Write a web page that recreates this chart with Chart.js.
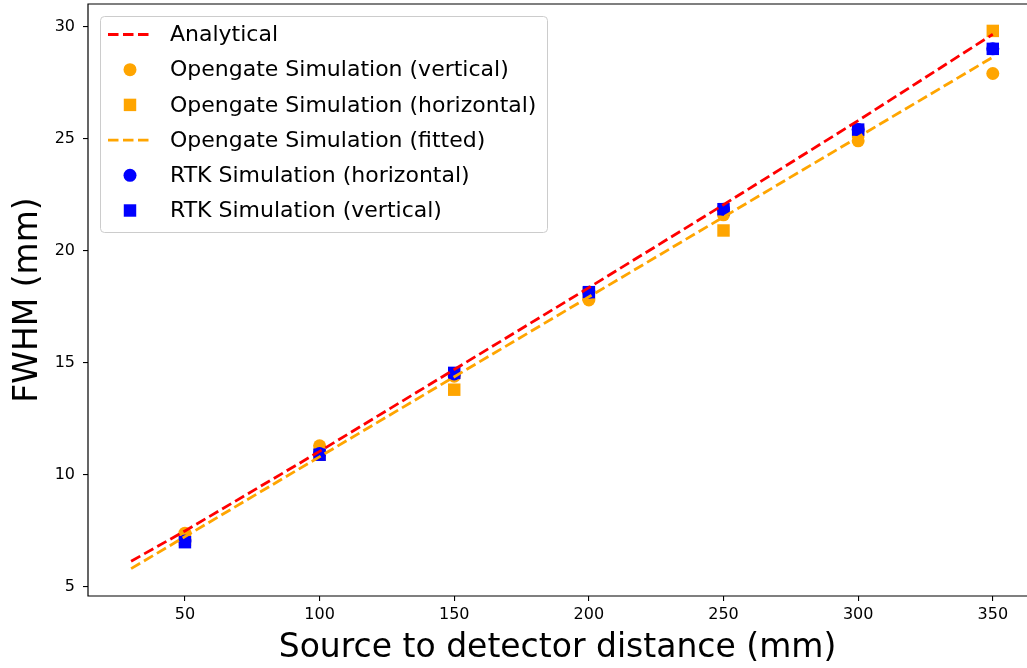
<!DOCTYPE html>
<html>
<head>
<meta charset="utf-8">
<script src="https://cdn.jsdelivr.net/npm/chart.js@4.4.0/dist/chart.umd.min.js"></script>
<style>
  html, body { margin: 0; padding: 0; background: #fff; overflow: hidden; }
  #wrap { width: 1027px; height: 668px; }
</style>
</head>
<body>
<div id="wrap"><canvas id="fwhmChart" width="1027" height="668"></canvas></div>
<script>
// values
const distances = [50, 100, 150, 200, 250, 300, 350];
const ogVertical = [7.4, 11.3, 14.4, 17.8, 21.6, 24.9, 27.9];
const ogHorizontal = [7.1, 10.9, 13.8, 18.1, 20.9, 25.3, 29.8];
const rtkHorizontal = [7.05, 10.95, 14.5, 18.15, 21.85, 25.4, 29.0];
const rtkVertical = [7.0, 10.9, 14.55, 18.15, 21.85, 25.4, 29.0];

const analyticalX = [30, 50, 100, 150, 200, 250, 300, 350];
const analyticalY = [6.15, 7.5, 11.05, 14.7, 18.35, 22.05, 25.8, 29.65];
const fittedX = [30, 350];
const fittedY = [5.82, 28.63];

const xTicks = [50, 100, 150, 200, 250, 300, 350];
const yTicks = [5, 10, 15, 20, 25, 30];

const RED = '#ff0000', ORANGE = '#ffa500', BLUE = '#0000ff';

function pts(xs, ys) {
  return xs.map((x, i) => ({ x: x, y: ys[i] }));
}

function lineSet(label, xs, ys, color, order) {
  return {
    label: label, data: pts(xs, ys), showLine: true,
    borderColor: color, borderWidth: 2.8, borderDash: [10.5, 4.5],
    pointRadius: 0, fill: false, tension: 0, order: order
  };
}

function markerSet(label, ys, color, style, radius, order) {
  return {
    label: label, data: pts(distances, ys), showLine: false,
    backgroundColor: color, borderColor: color, pointBorderWidth: 0,
    pointStyle: style, pointRadius: radius, order: order
  };
}

// no extra room for tick labels at the ends, like matplotlib
function noPad(s) {
  s.paddingTop = 0; s.paddingBottom = 0; s.paddingLeft = 0; s.paddingRight = 0;
}

// frame (right spine falls just outside the picture) and a matplotlib-like legend
const frameAndLegend = {
  id: 'frameAndLegend',
  afterDatasetsDraw(chart) {
    const ctx = chart.ctx;
    const a = chart.chartArea;
    ctx.save();
    ctx.strokeStyle = '#000';
    ctx.lineWidth = 1.2;
    ctx.beginPath();
    ctx.moveTo(a.right + 10, a.top);
    ctx.lineTo(a.left, a.top);
    ctx.lineTo(a.left, a.bottom);
    ctx.lineTo(a.right + 10, a.bottom);
    ctx.stroke();

    ctx.beginPath();
    ctx.roundRect(100.5, 16.5, 447, 216, 4);
    ctx.fillStyle = 'rgba(255,255,255,0.8)';
    ctx.fill();
    ctx.strokeStyle = '#cccccc';
    ctx.lineWidth = 1;
    ctx.stroke();

    ctx.font = '22px "DejaVu Sans"';
    ctx.textBaseline = 'middle';
    chart.data.datasets.forEach((ds, i) => {
      const y = 34.5 + i * 35.2;
      if (ds.showLine) {
        ctx.strokeStyle = ds.borderColor;
        ctx.lineWidth = ds.borderWidth;
        ctx.setLineDash(ds.borderDash);
        ctx.beginPath();
        ctx.moveTo(108, y);
        ctx.lineTo(153, y);
        ctx.stroke();
        ctx.setLineDash([]);
      } else {
        ctx.fillStyle = ds.backgroundColor;
        ctx.beginPath();
        if (ds.pointStyle === 'rect') {
          const h = ds.pointRadius * Math.SQRT1_2;
          ctx.rect(130 - h, y - h, 2 * h, 2 * h);
        } else {
          ctx.arc(130, y, ds.pointRadius, 0, Math.PI * 2);
        }
        ctx.fill();
      }
      ctx.fillStyle = '#000';
      ctx.fillText(ds.label, 170, y + 1);
    });
    ctx.restore();
  }
};

const ctx = document.getElementById('fwhmChart').getContext('2d');
const fwhmChart = new Chart(ctx, {
  type: 'scatter',
  data: {
    datasets: [
      lineSet('Analytical', analyticalX, analyticalY, RED, 2),
      markerSet('Opengate Simulation (vertical)', ogVertical, ORANGE, 'circle', 6.5, 7),
      markerSet('Opengate Simulation (horizontal)', ogHorizontal, ORANGE, 'rect', 8.8, 6),
      lineSet('Opengate Simulation (fitted)', fittedX, fittedY, ORANGE, 1),
      markerSet('RTK Simulation (horizontal)', rtkHorizontal, BLUE, 'circle', 6.5, 5),
      markerSet('RTK Simulation (vertical)', rtkVertical, BLUE, 'rect', 8.8, 4)
    ]
  },
  options: {
    responsive: false,
    animation: false,
    layout: { autoPadding: false, padding: { left: 0, right: 0, top: 4, bottom: 0 } },
    plugins: { legend: { display: false }, tooltip: { enabled: false } },
    scales: {
      x: {
        type: 'linear', min: 14, max: 362.7,
        afterBuildTicks: (s) => { s.ticks = xTicks.map(v => ({ value: v })); },
        afterFit: (s) => { s.height = 72; noPad(s); },
        border: { display: false },
        grid: { drawOnChartArea: false, drawTicks: true, tickLength: 5, color: '#000', lineWidth: 1.1 },
        ticks: { color: '#000', padding: 4, font: { family: 'DejaVu Sans', size: 16 }, maxRotation: 0 },
        title: { display: true, text: 'Source to detector distance (mm)', color: '#000',
                 font: { family: 'DejaVu Sans', size: 33, lineHeight: 1.2 }, padding: { top: 0, bottom: 0 } }
      },
      y: {
        type: 'linear', min: 4.6, max: 31.0,
        afterBuildTicks: (s) => { s.ticks = yTicks.map(v => ({ value: v })); },
        afterFit: (s) => { s.width = 88; noPad(s); },
        border: { display: false },
        grid: { drawOnChartArea: false, drawTicks: true, tickLength: 5, color: '#000', lineWidth: 1.1 },
        ticks: { color: '#000', padding: 8, font: { family: 'DejaVu Sans', size: 16 } },
        title: { display: true, text: 'FWHM (mm)', color: '#000',
                 font: { family: 'DejaVu Sans', size: 33, lineHeight: 1.2 }, padding: { top: 9, bottom: 0 } }
      }
    }
  },
  plugins: [frameAndLegend]
});
</script>
</body>
</html>
